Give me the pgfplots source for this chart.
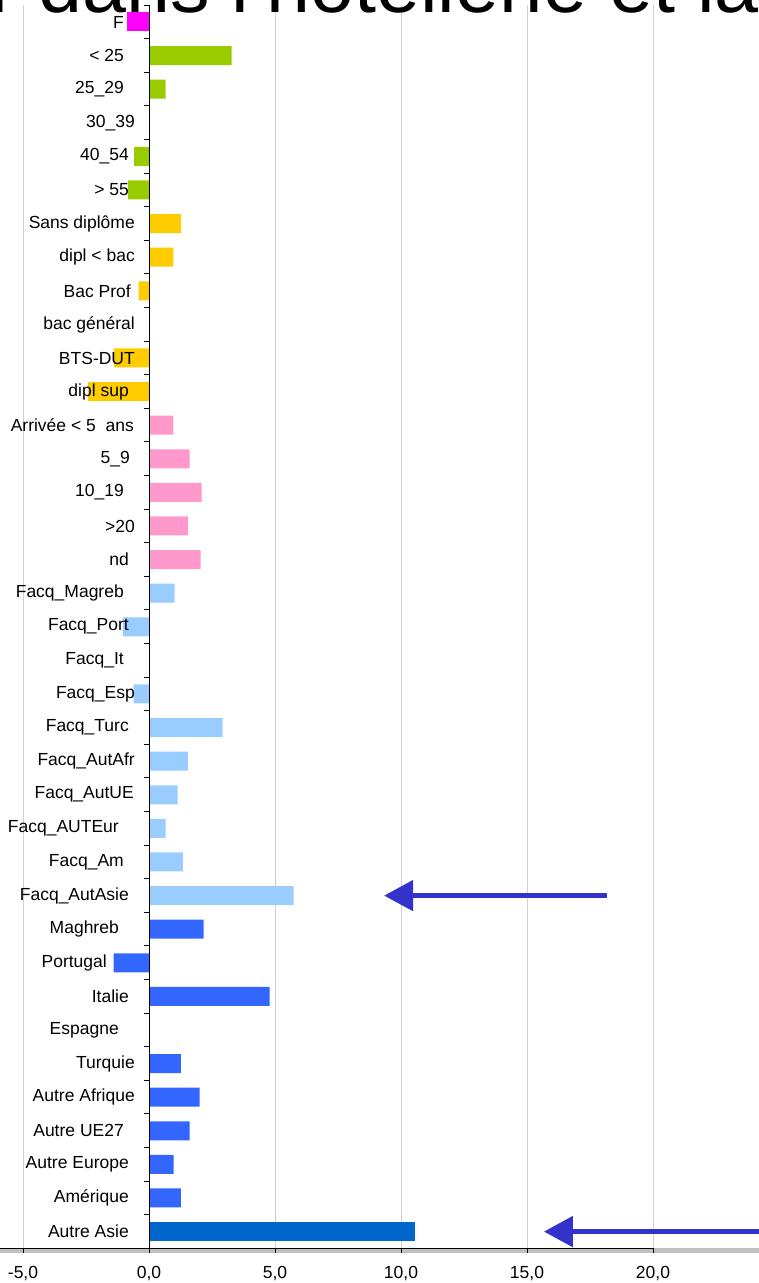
\documentclass[border=0pt]{standalone}
\usepackage{fontspec}
\setmainfont{Liberation Sans}
\usepackage{pgfplots}
\pgfplotsset{compat=1.18}
\usetikzlibrary{arrows.meta,calc}
\definecolor{cMag}{HTML}{FF00FF}
\definecolor{cAge}{HTML}{99CC00}
\definecolor{cDip}{HTML}{FFCC00}
\definecolor{cArr}{HTML}{FF99CC}
\definecolor{cFacq}{HTML}{99CCFF}
\definecolor{cPays}{HTML}{3366FF}
\definecolor{cAsie}{HTML}{0066CC}
\definecolor{cArrow}{HTML}{3333CC}
\definecolor{cGrid}{HTML}{D0D0D0}
\definecolor{cBand}{HTML}{C0C0C0}
\pgfplotsset{layers/mylayers/.define layer set={axis background,axis grid,pre main,main,axis ticks,axis lines,axis tick labels,axis descriptions,axis foreground}{
  grid style={/pgfplots/on layer=axis grid},
  tick style={/pgfplots/on layer=axis ticks},
  axis line style={/pgfplots/on layer=axis lines},
  label style={/pgfplots/on layer=axis descriptions},
  title style={/pgfplots/on layer=axis descriptions},
  ticklabel style={/pgfplots/on layer=axis tick labels},
}}
\newcommand{\yl}[2]{#1\hspace*{#2pt}}
\begin{document}
\begin{tikzpicture}
\begin{axis}[
  set layers=mylayers,
  x=25.2pt, y=33.6pt,
  xmin=-6, xmax=20, ymin=-0.5, ymax=36.5,
  axis lines*=left,
  y axis line style={draw=none},
  axis line style={line width=1pt, black},
  clip=false,
  xbar, bar width=19pt, bar shift=0pt,
  xtick={-5,0,5,10,15,20},
  xtick align=outside,
  major tick length=5pt,
  xtick style={line width=1pt, black},
  xmajorgrids,
  grid style={cGrid, line width=1pt},
  ytick={0,...,36},
  ytick style={draw=none},
  ytick align=inside,
  tick label style={font=\fontsize{17.5}{20}\selectfont},
  /pgf/number format/.cd, fixed, fixed zerofill, precision=1, use comma, assume math mode=true,
  /pgfplots/.cd,
  xticklabel style={inner sep=0pt, anchor=north, yshift=-13pt},
  yticklabel style={inner sep=0pt, anchor=east, xshift=137.2pt},
  yticklabels={\yl{Autre Asie}{6},\yl{Amérique}{6},\yl{Autre Europe}{6},\yl{Autre UE27}{11},\yl{Autre Afrique}{0},\yl{Turquie}{0},\yl{Espagne}{16},\yl{Italie}{6},\yl{Portugal}{28},\yl{Maghreb}{16},\yl{Facq\_AutAsie}{6},\yl{Facq\_Am}{11},\yl{Facq\_AUTEur}{16},\yl{Facq\_AutUE}{1},\yl{Facq\_AutAfr}{0},\yl{Facq\_Turc}{6},\yl{Facq\_Esp}{0},\yl{Facq\_It}{11},\yl{Facq\_Port}{6},\yl{Facq\_Magreb}{11},\yl{nd}{6},\yl{>20}{0},\yl{10\_19}{11},\yl{5\_9}{5},\yl{Arrivée < 5\ \ ans}{1},\yl{dipl sup}{6},\yl{BTS-DUT}{0},\yl{bac général}{0},\yl{Bac Prof}{4},\yl{dipl < bac}{0},\yl{Sans diplôme}{0},\yl{> 55}{6},\yl{40\_54}{6},\yl{30\_39}{0},\yl{25\_29}{11},\yl{< 25}{11},\yl{F}{11}},
]
\coordinate (O) at (axis cs:0,36);
% gray band under the x axis
\draw[cBand, line width=5pt] ($(axis cs:-6,-0.5)+(-20pt,-2.5pt)$) -- ($(axis cs:26,-0.5)+(0pt,-2.5pt)$);
\addplot[fill=cMag, draw=none] coordinates {(-0.87,36)};
\addplot[fill=cAge, draw=none] coordinates {(3.28,35) (0.66,34) (0,33) (-0.59,32) (-0.83,31)};
\addplot[fill=cDip, draw=none] coordinates {(1.26,30) (0.97,29) (-0.41,28) (0,27) (-1.39,26) (-2.43,25)};
\addplot[fill=cArr, draw=none] coordinates {(0.97,24) (1.61,23) (2.09,22) (1.54,21) (2.05,20)};
\addplot[fill=cFacq, draw=none] coordinates {(1.02,19) (-1.04,18) (0,17) (-0.61,16) (2.92,15) (1.54,14) (1.14,13) (0.66,12) (1.34,11) (5.74,10)};
\addplot[fill=cPays, draw=none] coordinates {(2.17,9) (-1.40,8) (4.79,7) (0,6) (1.26,5) (2.01,4) (1.61,3) (0.98,2) (1.26,1)};
\addplot[fill=cAsie, draw=none] coordinates {(10.55,0)};
% y axis line at 0 with ticks between categories
\draw[black, line width=1pt] (axis cs:0,-0.5) -- (axis cs:0,36.5);
\pgfplotsinvokeforeach{0,...,37}{\draw[black, line width=1pt] (axis cs:0,#1-0.5) -- ++(-5pt,0pt);}
% arrows
\draw[cArrow, line width=5pt, -{Triangle[length=29pt,width=30pt]}] (axis cs:18.17,10) -- (axis cs:9.33,10);
\draw[cArrow, line width=5pt, -{Triangle[length=29pt,width=30pt]}] (axis cs:26,0) -- (axis cs:15.67,0);
\end{axis}
\node[anchor=base west, inner sep=0pt, font=\fontsize{79}{86}\selectfont] at ($(O)+(-149pt-10pt,22pt-13pt)$) {r dans l'hôtellerie et la restauration};
\pgfresetboundingbox
\path[use as bounding box] ($(O)+(-149pt,22pt)$) rectangle ($(O)+(610pt,-1261pt)$);
\end{tikzpicture}
\end{document}
